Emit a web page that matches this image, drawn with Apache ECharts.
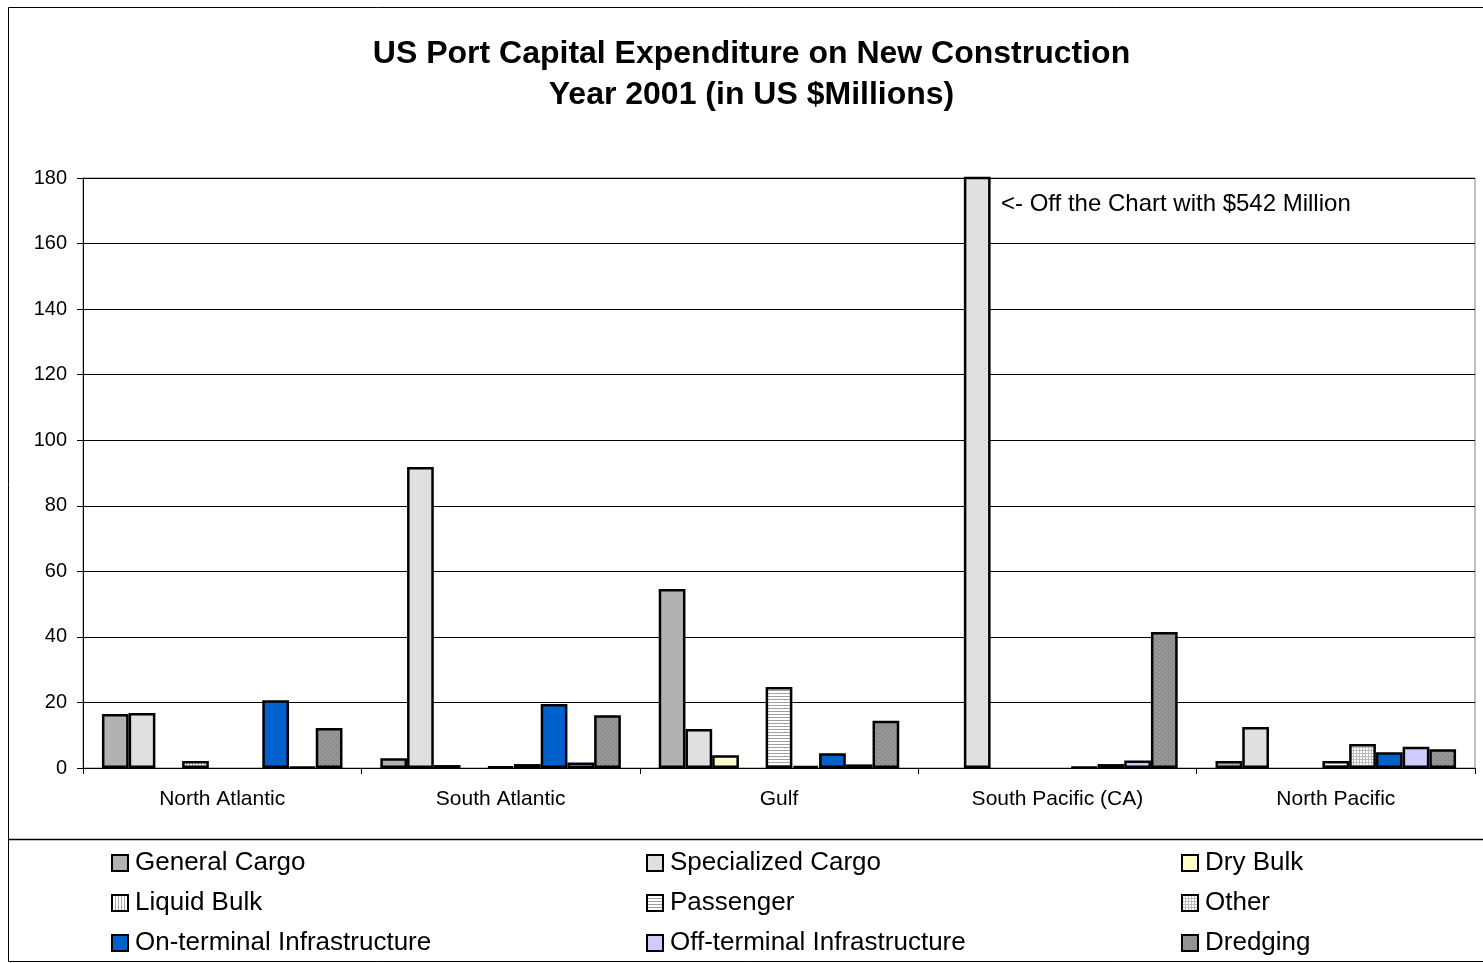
<!DOCTYPE html>
<html><head><meta charset="utf-8">
<script src="https://cdn.jsdelivr.net/npm/echarts@6/dist/echarts.min.js"></script>
<style>html,body{margin:0;padding:0;background:#fff}#c{width:1483px;height:963px}</style>
</head><body><div id="c"></div>
<script>
const categories = ['North Atlantic','South Atlantic','Gulf','South Pacific (CA)','North Pacific'];
const seriesNames = ['General Cargo','Specialized Cargo','Dry Bulk','Liquid Bulk','Passenger','Other','On-terminal Infrastructure','Off-terminal Infrastructure','Dredging'];
const generalCargo   = [16.5, 3.0, 54.6, 0, 2.1];
const specializedCargo = [16.8, 91.8, 11.9, 542, 12.5];
const dryBulk        = [0, 0.9, 3.9, 0, 0];
const liquidBulk     = [2.1, 0, 0, 0, 0];
const passenger      = [0, 0.4, 24.7, 0, 2.1];
const other          = [0, 1.2, 0.6, 0.3, 7.3];
const onTerminal     = [20.7, 19.5, 4.5, 1.2, 4.8];
const offTerminal    = [0.3, 1.7, 1.1, 2.3, 6.5];
const dredging       = [12.2, 16.1, 14.4, 41.5, 5.7];
const yTicks = [0,20,40,60,80,100,120,140,160,180];
const annotation = '<- Off the Chart with $542 Million';
const titleLines = ['US Port Capital Expenditure on New Construction','Year 2001 (in US $Millions)'];

function pat(draw, size){
  const c = document.createElement('canvas'); c.width = size; c.height = size;
  const x = c.getContext('2d'); draw(x, size);
  return {image: c, repeat: 'repeat'};
}
const fills = [
  pat((x,s)=>{x.fillStyle='#b4b4b4';x.fillRect(0,0,s,s);x.fillStyle='#a4a4a4';x.fillRect(0,0,1,1);x.fillRect(2,2,1,1);},4),
  pat((x,s)=>{x.fillStyle='#e2e2e2';x.fillRect(0,0,s,s);x.fillStyle='#d0d0d0';x.fillRect(0,0,1,1);x.fillRect(2,2,1,1);},4),
  '#ffffcc',
  pat((x,s)=>{x.fillStyle='#ffffff';x.fillRect(0,0,s,s);x.fillStyle='#a8a8a8';x.fillRect(0,0,1,s);},3),
  pat((x,s)=>{x.fillStyle='#ffffff';x.fillRect(0,0,s,s);x.fillStyle='#a0a0a0';x.fillRect(0,0,s,1);},3),
  pat((x,s)=>{x.fillStyle='#ffffff';x.fillRect(0,0,s,s);x.fillStyle='#bcbcbc';x.fillRect(0,0,s,1);x.fillRect(0,0,1,s);},3),
  '#0060cc',
  '#ccccff',
  pat((x,s)=>{x.fillStyle='#969696';x.fillRect(0,0,s,s);x.fillStyle='#787878';x.fillRect(0,0,1,1);x.fillRect(2,2,1,1);},4)
];
const allData = [generalCargo,specializedCargo,dryBulk,liquidBulk,passenger,other,onTerminal,offTerminal,dredging];

const series = seriesNames.map((n,i)=>({
  name: n, type: 'bar', data: allData[i].map(v => v === 0 ? null : v), barGap: '0%', barCategoryGap: '13.6%',
  itemStyle: {color: fills[i], borderColor: '#000', borderWidth: 2.5},
  emphasis: {disabled: true}, animation: false, clip: true
}));

const FONT = 'Liberation Sans, Arial';
const legendBase = {orient:'vertical', top: 845, itemWidth: 16, itemHeight: 16, itemGap: 14,
  icon: 'rect', textStyle:{fontSize: 26, fontFamily: FONT, color:'#000', padding:[0,0,0,2]},
  selectedMode: false};
const titleStyle = {fontSize: 32, fontWeight:'bold', fontFamily: FONT, fill:'#000', textAlign:'center', textVerticalAlign:'middle'};

const chart = echarts.init(document.getElementById('c'), null, {renderer:'canvas'});
chart.setOption({
  animation: false,
  backgroundColor: '#fff',
  grid: {left: 83, right: 8, top: 178, bottom: 195, show: true, borderColor:'#808080', borderWidth: 1},
  legend: [
    Object.assign({}, legendBase, {left: 106, data: [seriesNames[0], seriesNames[3], seriesNames[6]]}),
    Object.assign({}, legendBase, {left: 641, data: [seriesNames[1], seriesNames[4], seriesNames[7]]}),
    Object.assign({}, legendBase, {left: 1176, data: [seriesNames[2], seriesNames[5], seriesNames[8]]})
  ],
  xAxis: {type:'category', data: categories,
    axisLine:{lineStyle:{color:'#000', width:1}},
    axisTick:{show:true, length:6, lineStyle:{color:'#000'}},
    axisLabel:{fontSize:21, color:'#000', fontFamily: FONT, margin: 21}},
  yAxis: {type:'value', min: yTicks[0], max: yTicks[yTicks.length-1], interval: 20,
    axisLine:{show:true, lineStyle:{color:'#000'}},
    axisTick:{show:true, length:6, lineStyle:{color:'#000'}},
    axisLabel:{fontSize:20, color:'#000', fontFamily: FONT, margin: 16},
    splitLine:{lineStyle:{color:'#000', width:1}}},
  series: series,
  graphic: [
    {type:'rect', shape:{x:8.5, y:7.5, width:1490, height:954}, style:{fill:null, stroke:'#000', lineWidth:1}, silent:true},
    {type:'line', shape:{x1:8, y1:839.5, x2:1483, y2:839.5}, style:{stroke:'#000', lineWidth:1.5}, silent:true},
    {type:'text', x: 751.5, y: 54, style: Object.assign({text: titleLines[0]}, titleStyle), silent:true},
    {type:'text', x: 751.5, y: 95, style: Object.assign({text: titleLines[1]}, titleStyle), silent:true},
    {type:'text', left: 1001, top: 192, style:{text: annotation, fontSize: 24, fontFamily: FONT, fill:'#000'}, silent:true}
  ]
});
</script></body></html>
